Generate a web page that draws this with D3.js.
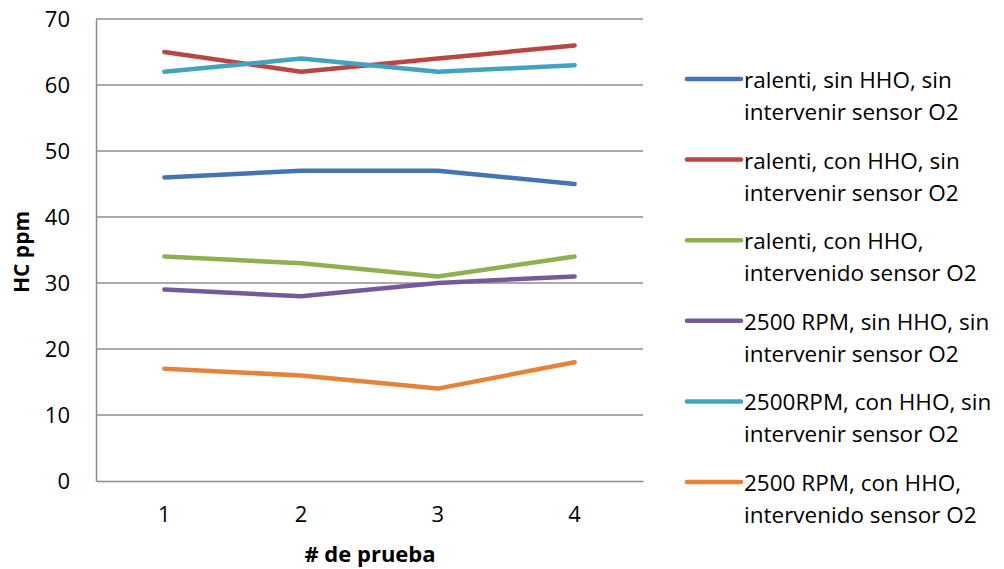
<!DOCTYPE html>
<html>
<head>
<meta charset="utf-8">
<script src="https://cdn.jsdelivr.net/npm/d3@7"></script>
<style>
  html, body { margin: 0; padding: 0; background: #fff; }
  text { font-family: "Open Sans", "Noto Sans", sans-serif; fill: #000; }
</style>
</head>
<body>
<svg id="chart" width="1004" height="569"></svg>
<script>
// Test numbers on the x axis
const pruebas = [1, 2, 3, 4];
const yTicks = [0, 10, 20, 30, 40, 50, 60, 70];

// HC readings (ppm) for each condition
const seriesNames = [
  "ralenti, sin HHO, sin intervenir sensor O2",
  "ralenti, con HHO, sin intervenir sensor O2",
  "ralenti, con HHO, intervenido sensor O2",
  "2500 RPM, sin HHO, sin intervenir sensor O2",
  "2500RPM, con HHO, sin intervenir sensor O2",
  "2500 RPM, con HHO, intervenido sensor O2"
];
const legendLines = [
  ["ralenti, sin HHO, sin", "intervenir sensor O2"],
  ["ralenti, con HHO, sin", "intervenir sensor O2"],
  ["ralenti, con HHO,", "intervenido sensor O2"],
  ["2500 RPM, sin HHO, sin", "intervenir sensor O2"],
  ["2500RPM, con HHO, sin", "intervenir sensor O2"],
  ["2500 RPM, con HHO,", "intervenido sensor O2"]
];
const ralentiSinHHO = [46, 47, 47, 45];
const ralentiConHHO = [65, 62, 64, 66];
const ralentiConHHOInterv = [34, 33, 31, 34];
const rpmSinHHO = [29, 28, 30, 31];
const rpmConHHO = [62, 64, 62, 63];
const rpmConHHOInterv = [17, 16, 14, 18];
const seriesValues = [ralentiSinHHO, ralentiConHHO, ralentiConHHOInterv, rpmSinHHO, rpmConHHO, rpmConHHOInterv];
const colors = ["#4674b2", "#b84643", "#8fb050", "#76599a", "#43a2bd", "#e3843a"];

const svg = d3.select("#chart");
const plot = { left: 96, right: 643, top: 19, bottom: 481 };

const x = d3.scaleBand().domain(pruebas).range([plot.left, plot.right]);
const y = d3.scaleLinear().domain([0, 70]).range([plot.bottom, plot.top]);

// horizontal gridlines
svg.append("g").selectAll("line").data(yTicks.filter(d => d > 0)).join("line")
  .attr("x1", plot.left).attr("x2", plot.right)
  .attr("y1", d => y(d)).attr("y2", d => y(d))
  .attr("stroke", "#8c8c8c").attr("stroke-width", 1.5);

// y axis
const yAxis = svg.append("g").attr("transform", `translate(${plot.left},0)`)
  .call(d3.axisLeft(y).tickValues(yTicks).tickSize(0).tickPadding(26));
yAxis.select(".domain").attr("stroke", "#8c8c8c").attr("stroke-width", 1.5);
yAxis.selectAll("text").style("font-size", "22px").attr("dy", "0.36em")
  .style("font-family", "'Open Sans', sans-serif");

// x axis
const xAxis = svg.append("g").attr("transform", `translate(0,${plot.bottom})`)
  .call(d3.axisBottom(x).tickSize(0).tickPadding(25));
xAxis.select(".domain").attr("stroke", "#8c8c8c").attr("stroke-width", 1.5);
xAxis.selectAll("text").style("font-size", "22px")
  .style("font-family", "'Open Sans', sans-serif");

// series lines
const line = d3.line().x((d, i) => x(pruebas[i]) + x.bandwidth() / 2).y(d => y(d));
svg.append("g").selectAll("path").data(seriesValues).join("path")
  .attr("d", d => line(d))
  .attr("fill", "none")
  .attr("stroke", (d, i) => colors[i])
  .attr("stroke-width", 4.5)
  .attr("stroke-linecap", "round")
  .attr("stroke-linejoin", "round");

// axis titles
svg.append("text").attr("x", 370).attr("y", 562)
  .attr("text-anchor", "middle").style("font-size", "22px").style("font-weight", "bold")
  .text("# de prueba");
svg.append("text").attr("transform", "translate(29,252) rotate(-90)")
  .attr("text-anchor", "middle").style("font-size", "21px").style("font-weight", "bold")
  .text("HC ppm");

// legend
const legend = svg.append("g").selectAll("g").data(seriesNames).join("g")
  .attr("transform", (d, i) => `translate(687,${79 + i * 80.6})`);
legend.append("line").attr("x1", 0).attr("x2", 54).attr("y1", 0).attr("y2", 0)
  .attr("stroke", (d, i) => colors[i]).attr("stroke-width", 4.5).attr("stroke-linecap", "round");
legend.each(function(d, i) {
  const g = d3.select(this);
  legendLines[i].forEach((t, j) => {
    g.append("text").attr("x", 57).attr("y", 9 + j * 32)
      .style("font-size", "22.5px").text(t);
  });
});
</script>
</body>
</html>
